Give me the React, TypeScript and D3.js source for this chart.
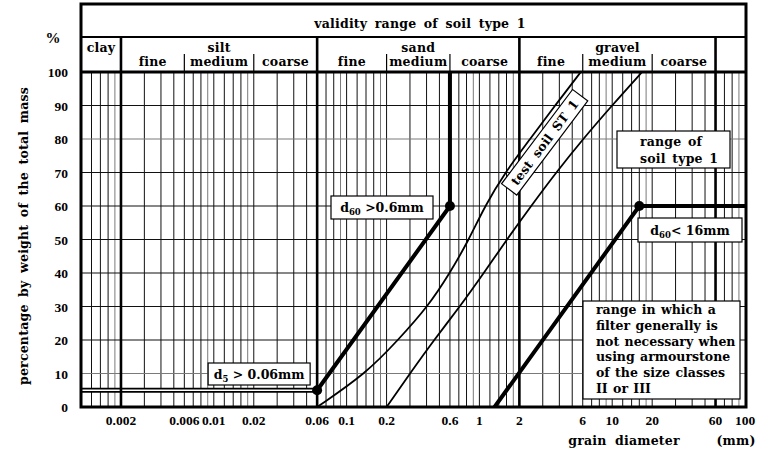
import React from 'react';
import * as d3 from 'd3';

// grading chart, soil type 1
const yTicks = [0, 10, 20, 30, 40, 50, 60, 70, 80, 90, 100];
const xTickLabels = [0.002, 0.006, 0.01, 0.02, 0.06, 0.1, 0.2, 0.6, 1, 2, 6, 10, 20, 60, 100];
const decades = [0.001, 0.01, 0.1, 1, 10];
const gridMultipliers = [1.2, 1.4, 1.6, 1.8, 2, 3, 4, 5, 6, 7, 8, 9];
const grayMultipliers = [1.8, 9];
const grayPercents = [10, 80];
const majorBounds = [0.002, 0.06, 2, 60];
const subBounds = [0.006, 0.02, 0.2, 0.6, 6, 20];
const mainClasses = [
  { label: 'clay', from: 0.001, to: 0.002 },
  { label: 'silt', from: 0.002, to: 0.06 },
  { label: 'sand', from: 0.06, to: 2 },
  { label: 'gravel', from: 2, to: 60 },
];
const subClasses = [
  { label: 'fine', from: 0.002, to: 0.006 },
  { label: 'medium', from: 0.006, to: 0.02 },
  { label: 'coarse', from: 0.02, to: 0.06 },
  { label: 'fine', from: 0.06, to: 0.2 },
  { label: 'medium', from: 0.2, to: 0.6 },
  { label: 'coarse', from: 0.6, to: 2 },
  { label: 'fine', from: 2, to: 6 },
  { label: 'medium', from: 6, to: 20 },
  { label: 'coarse', from: 20, to: 60 },
];

// test soil ST 1 band (grain size mm, % passing)
const testSoilFine: [number, number][] = [
  [0.06, 0], [0.14, 10], [0.244, 20], [0.41, 30], [0.6, 40], [0.835, 50],
  [1.1, 60], [1.56, 70], [2.41, 80], [3.71, 90], [5.8, 100],
];
const testSoilCoarse: [number, number][] = [
  [0.2, 0], [0.3, 10], [0.455, 20], [0.714, 30], [1.08, 40], [1.61, 50],
  [2.45, 60], [3.78, 70], [6.03, 80], [9.96, 90], [16.8, 100],
];
// limits of soil type 1
const d5Limit: [number, number][] = [[0.001, 5], [0.06, 5]];
const lowerLimit: [number, number][] = [[0.06, 5], [0.6, 60], [0.6, 100]];
const upperLimit: [number, number][] = [[1.3, 0], [16, 60], [100, 60]];
const limitPoints: [number, number][] = [[0.06, 5], [0.6, 60], [16, 60]];
const filterText = [
  'range in which a',
  'filter generally is',
  'not necessary when',
  'using armourstone',
  'of the size classes',
  'II or III',
];

const FONT = '"DejaVu Serif", serif';
const NUM_FONT = '"Liberation Serif", serif';

export default function App() {
  const left = 81, right = 745, top = 72, bottom = 407, frameTop = 4, headLine = 37;
  const x = d3.scaleLog().domain([0.001, 100]).range([left, right]);
  const y = d3.scaleLinear().domain([0, 100]).range([bottom, top]);
  const line = d3.line<[number, number]>().x(d => x(d[0])).y(d => y(d[1]));
  const smooth = d3.line<[number, number]>().x(d => x(d[0])).y(d => y(d[1])).curve(d3.curveBasis);

  const grid: { v: number; gray: boolean }[] = [];
  decades.forEach(d => {
    if (d > 0.001) grid.push({ v: d, gray: false });
    gridMultipliers.forEach(m => {
      const v = d * m;
      if (v < 100) grid.push({ v, gray: grayMultipliers.includes(m) });
    });
  });

  const txt = { fontFamily: FONT, fontWeight: 700, fontSize: 12.5, letterSpacing: 0.2 } as React.CSSProperties;
  const num = { fontFamily: NUM_FONT, fontWeight: 700, fontSize: 13.5 } as React.CSSProperties;

  const [tsx, tsy] = [x(3.1), y(79)];

  return (
    <svg width={774} height={452} style={{ position: 'absolute', left: 0, top: 0, background: '#fff' }}>
      <defs>
        <clipPath id="plot"><rect x={left} y={top} width={right - left} height={bottom - top} /></clipPath>
      </defs>
      <rect width={774} height={452} fill="#fff" />

      {/* grid */}
      {grid.map((g, i) => (
        <line key={'v' + i} x1={x(g.v)} x2={x(g.v)} y1={top} y2={bottom}
          stroke={g.gray ? '#7a7a7a' : '#111'} strokeWidth={1} />
      ))}
      {yTicks.filter(t => t > 0 && t < 100).map(t => (
        <line key={'h' + t} x1={left} x2={right} y1={y(t)} y2={y(t)}
          stroke={grayPercents.includes(t) ? '#7a7a7a' : '#111'} strokeWidth={1.2} />
      ))}

      {/* test soil band */}
      <g clipPath="url(#plot)" fill="none" stroke="#000" strokeWidth={1.8}>
        <path d={smooth(testSoilFine) || ''} />
        <path d={smooth(testSoilCoarse) || ''} />
      </g>

      {/* limits */}
      <path d={line(d5Limit) || ''} fill="none" stroke="#000" strokeWidth={5} />
      <path d={line(d5Limit) || ''} fill="none" stroke="#fff" strokeWidth={1.3} />
      <g clipPath="url(#plot)" fill="none" stroke="#000" strokeWidth={4}>
        <path d={line(lowerLimit) || ''} />
        <path d={line(upperLimit) || ''} />
      </g>
      {limitPoints.map((p, i) => (
        <circle key={'p' + i} cx={x(p[0])} cy={y(p[1])} r={5} fill="#000" />
      ))}

      {/* frame and class boundaries */}
      {majorBounds.map(b => (
        <line key={'mb' + b} x1={x(b)} x2={x(b)} y1={headLine} y2={bottom} stroke="#000" strokeWidth={2.6} />
      ))}
      {subBounds.map(b => (
        <line key={'sb' + b} x1={x(b)} x2={x(b)} y1={54} y2={top} stroke="#000" strokeWidth={1.2} />
      ))}
      <line x1={left} x2={right + 1} y1={headLine} y2={headLine} stroke="#000" strokeWidth={2.2} />
      <line x1={left} x2={right + 1} y1={top} y2={top} stroke="#000" strokeWidth={3} />
      <rect x={left} y={frameTop} width={right + 1 - left} height={bottom - frameTop} fill="none" stroke="#000" strokeWidth={3} />

      {/* header text */}
      <text x={(left + right) / 2 + 7} y={28} textAnchor="middle" style={{ ...txt, wordSpacing: 3 }}>validity range of soil type 1</text>
      {mainClasses.map(c => (
        <text key={c.label} x={(x(c.from) + x(c.to)) / 2} y={52} textAnchor="middle" style={txt}>{c.label}</text>
      ))}
      {subClasses.map((c, i) => (
        <text key={'s' + i} x={(x(c.from) + x(c.to)) / 2} y={66} textAnchor="middle" style={txt}>{c.label}</text>
      ))}

      {/* y axis */}
      <text x={53} y={43} textAnchor="middle" style={{ ...num, fontSize: 15 }}>%</text>
      {yTicks.map(t => (
        <text key={'yt' + t} x={68} y={y(t) + 5} textAnchor="end" style={num}>{t}</text>
      ))}
      <text transform={`translate(28,236) rotate(-90)`} textAnchor="middle"
        style={{ ...txt, wordSpacing: 3 }}>percentage by weight of the total mass</text>

      {/* x axis */}
      {xTickLabels.map(t => (
        <text key={'xt' + t} x={x(t)} y={425} textAnchor="middle" style={num}>{String(t)}</text>
      ))}
      <text x={624} y={445} textAnchor="middle" style={{ ...txt, wordSpacing: 4 }}>grain diameter</text>
      <text x={736} y={445} textAnchor="middle" style={txt}>(mm)</text>

      {/* annotations */}
      <g>
        <rect x={x(0.06) - 109} y={363} width={102} height={22} fill="#fff" stroke="#000" strokeWidth={1.2} />
        <text x={x(0.06) - 58} y={379} textAnchor="middle" style={{ ...txt, letterSpacing: 0 }}>
          d<tspan fontSize={8.5} dy={3}>5</tspan><tspan dy={-3}> &gt; 0.06mm</tspan>
        </text>
      </g>
      <g>
        <rect x={331} y={196} width={102} height={23} fill="#fff" stroke="#000" strokeWidth={1.2} />
        <text x={382} y={212} textAnchor="middle" style={{ ...txt, letterSpacing: 0 }}>
          d<tspan fontSize={8.5} dy={3}>60</tspan><tspan dy={-3}> &gt;0.6mm</tspan>
        </text>
      </g>
      <g>
        <rect x={638} y={218} width={104} height={24} fill="#fff" stroke="#000" strokeWidth={1.2} />
        <text x={690} y={235} textAnchor="middle" style={{ ...txt, letterSpacing: 0 }}>
          d<tspan fontSize={8.5} dy={3}>60</tspan><tspan dy={-3}>&lt; 16mm</tspan>
        </text>
      </g>
      <g>
        <rect x={617} y={131} width={113} height={37} fill="#fff" stroke="#000" strokeWidth={1.2} />
        <text x={640} y={146} style={{ ...txt, wordSpacing: 2 }}>range of</text>
        <text x={640} y={163} style={{ ...txt, wordSpacing: 2 }}>soil type 1</text>
      </g>
      <g transform={`translate(${tsx},${tsy}) rotate(-53)`}>
        <rect x={-59} y={-9.5} width={118} height={19} fill="#fff" stroke="#000" strokeWidth={1.2} />
        <text x={0} y={4.5} textAnchor="middle" style={{ ...txt, wordSpacing: 3 }}>test soil ST 1</text>
      </g>
      <g>
        <rect x={583} y={301} width={157} height={98} fill="#fff" stroke="#000" strokeWidth={1.2} />
        {filterText.map((s, i) => (
          <text key={'f' + i} x={596} y={314 + i * 15.8} style={{ ...txt, letterSpacing: 0, wordSpacing: 1 }}>{s}</text>
        ))}
      </g>
    </svg>
  );
}
